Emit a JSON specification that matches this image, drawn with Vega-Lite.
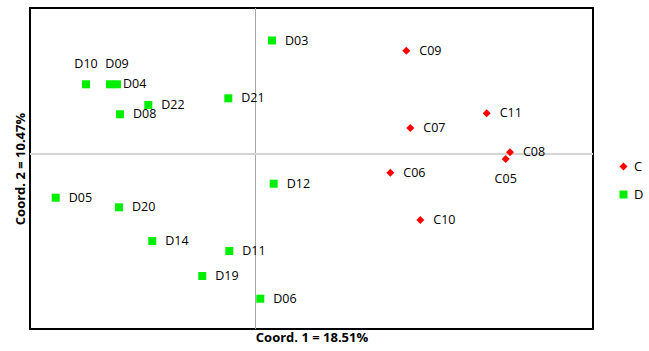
{
  "$schema": "https://vega.github.io/schema/vega-lite/v6.json",
  "width": 563,
  "height": 321,
  "autosize": "none",
  "padding": {"left": 30, "top": 8, "right": 56, "bottom": 22},
  "background": "white",
  "config": {
    "view": {"stroke": "black", "strokeWidth": 2},
    "font": "Open Sans",
    "axis": {"grid": false, "ticks": false, "labels": false, "domain": false, "titleFont": "Open Sans", "titleFontWeight": "bold", "titleFontSize": 13, "titleColor": "black"}
  },
  "data": {
    "values": [
      {"label": "D10", "group": "D", "x": -1.695, "y": 0.697},
      {"label": "D09", "group": "D", "x": -1.385, "y": 0.697},
      {"label": "D04", "group": "D", "x": -1.455, "y": 0.697},
      {"label": "D22", "group": "D", "x": -1.072, "y": 0.49},
      {"label": "D08", "group": "D", "x": -1.355, "y": 0.397},
      {"label": "D21", "group": "D", "x": -0.272, "y": 0.557},
      {"label": "D03", "group": "D", "x": 0.165, "y": 1.135},
      {"label": "D12", "group": "D", "x": 0.182, "y": -0.297},
      {"label": "D05", "group": "D", "x": -1.998, "y": -0.437},
      {"label": "D20", "group": "D", "x": -1.365, "y": -0.533},
      {"label": "D14", "group": "D", "x": -1.032, "y": -0.87},
      {"label": "D11", "group": "D", "x": -0.262, "y": -0.97},
      {"label": "D19", "group": "D", "x": -0.532, "y": -1.22},
      {"label": "D06", "group": "D", "x": 0.048, "y": -1.447},
      {"label": "C09", "group": "C", "x": 1.508, "y": 1.033},
      {"label": "C11", "group": "C", "x": 2.312, "y": 0.407},
      {"label": "C07", "group": "C", "x": 1.548, "y": 0.26},
      {"label": "C08", "group": "C", "x": 2.545, "y": 0.017},
      {"label": "C05", "group": "C", "x": 2.502, "y": -0.05},
      {"label": "C06", "group": "C", "x": 1.348, "y": -0.187},
      {"label": "C10", "group": "C", "x": 1.648, "y": -0.66}
    ]
  },
  "encoding": {
    "x": {"field": "x", "type": "quantitative", "scale": {"domain": [-2.255, 3.375], "nice": false, "zero": false}, "axis": {"title": "Coord. 1 = 18.51%", "titlePadding": 2}},
    "y": {"field": "y", "type": "quantitative", "scale": {"domain": [-1.75, 1.46], "nice": false, "zero": false}, "axis": {"title": "Coord. 2 = 10.47%", "titlePadding": 3}}
  },
  "layer": [
    {
      "mark": {"type": "rule", "color": "#a6a6a6", "strokeWidth": 1},
      "encoding": {"x": {"datum": 0}, "y": null}
    },
    {
      "mark": {"type": "rule", "color": "#d4d4d4", "strokeWidth": 1},
      "encoding": {"y": {"datum": 0}, "x": null}
    },
    {
      "mark": {"type": "point", "filled": true, "opacity": 1},
      "encoding": {
        "color": {"field": "group", "type": "nominal", "scale": {"domain": ["C", "D"], "range": ["#ff0000", "#00ee00"]}, "legend": {"title": null, "orient": "none", "legendX": 587, "legendY": 152, "rowPadding": 14, "labelFont": "Open Sans", "labelFontSize": 13, "labelColor": "black", "labelOffset": 4, "padding": 0, "symbolStrokeWidth": 0}},
        "shape": {"field": "group", "type": "nominal", "scale": {"domain": ["C", "D"], "range": ["diamond", "square"]}},
        "size": {"field": "group", "type": "nominal", "scale": {"domain": ["C", "D"], "range": [64, 64]}, "legend": null}
      }
    },
    {
      "transform": [{"filter": "datum.label != 'D10' && datum.label != 'D09' && datum.label != 'C05'"}],
      "mark": {"type": "text", "align": "left", "baseline": "middle", "dx": 13, "fontSize": 12.5, "font": "Open Sans", "color": "black"},
      "encoding": {"text": {"field": "label"}}
    },
    {
      "transform": [{"filter": "datum.label == 'D10' || datum.label == 'D09'"}],
      "mark": {"type": "text", "align": "center", "baseline": "middle", "dy": -20, "fontSize": 12.5, "font": "Open Sans", "color": "black"},
      "encoding": {"text": {"field": "label"}}
    },
    {
      "transform": [{"filter": "datum.label == 'C05'"}],
      "mark": {"type": "text", "align": "center", "baseline": "middle", "dy": 20, "fontSize": 12.5, "font": "Open Sans", "color": "black"},
      "encoding": {"text": {"field": "label"}}
    }
  ]
}
